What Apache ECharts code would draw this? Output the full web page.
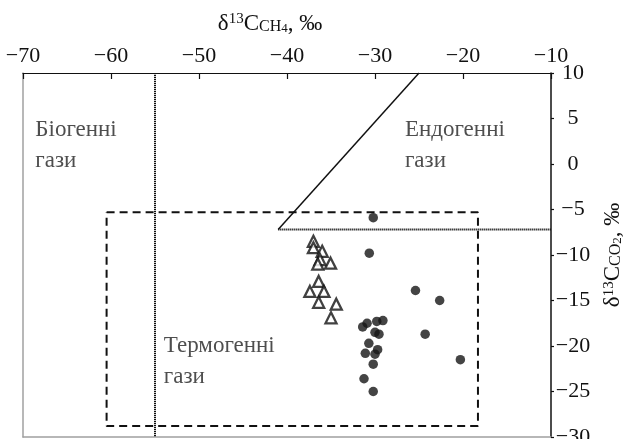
<!DOCTYPE html>
<html>
<head>
<meta charset="utf-8">
<script src="https://cdn.jsdelivr.net/npm/echarts@6/dist/echarts.min.js"></script>
<style>html,body{margin:0;padding:0;background:#fff;overflow:hidden}#c{width:636px;height:439px}</style>
</head>
<body>
<div id="c"></div>
<script>
// ---- data ----
const xRange = [-70, -10];
const yRange = [-30, 10];
const triangles = [[-37.0,-8.5],[-37.0,-9.2],[-36.0,-9.6],[-36.25,-10.5],[-36.5,-11.0],[-35.05,-10.9],[-36.4,-12.9],[-37.4,-14.0],[-35.8,-14.0],[-36.4,-15.2],[-34.4,-15.4],[-35.0,-16.9]];
const circles = [[-30.2,-5.9],[-30.65,-9.8],[-25.4,-13.9],[-22.65,-15.0],[-24.3,-18.7],[-20.3,-21.5],[-31.4,-17.9],[-30.9,-17.5],[-29.8,-17.3],[-29.1,-17.2],[-30.0,-18.5],[-29.55,-18.7],[-30.7,-19.7],[-31.1,-20.8],[-29.7,-20.4],[-30.0,-20.9],[-30.2,-22.0],[-31.25,-23.6],[-30.2,-25.0]];
const biogenicLimit = [[-55,10],[-55,-30]];
const endoHorizontal = [[-41,-7.2],[-10,-7.2]];
const endoDiagonal = [[-41,-7.2],[-25,10]];
const thermoBox = [[-60.5,-5.3],[-18.3,-5.3],[-18.3,-28.8],[-60.5,-28.8],[-60.5,-5.3]];
const zoneLabels = [
  {name:'Біогенні\nгази', value:[-68.6, 5.4]},
  {name:'Ендогенні\nгази', value:[-26.6, 5.4]},
  {name:'Термогенні\nгази', value:[-54.0, -18.3]}
];

const FONT = '"Liberation Serif","Times New Roman",serif';
const minus = v => String(v).replace('-', '\u2212');
const rich = {
  d:{fontFamily:FONT,fontSize:23,color:'#111'},
  c:{fontFamily:FONT,fontSize:23,color:'#111'},
  sup:{fontFamily:FONT,fontSize:15,color:'#111',verticalAlign:'top',padding:[0,0,8,0]},
  sub:{fontFamily:FONT,fontSize:16,color:'#111',verticalAlign:'bottom',padding:[6,0,0,0]},
  sub2:{fontFamily:FONT,fontSize:13,color:'#111',verticalAlign:'bottom',padding:[8,0,0,0]}
};

const chart = echarts.init(document.getElementById('c'), null, {renderer:'canvas'});
chart.setOption({
  animation:false,
  backgroundColor:'#fff',
  grid:{left:23, top:73, width:528, height:364, containLabel:false, outerBoundsMode:'none'},
  xAxis:[{
    type:'value', position:'top', min:xRange[0], max:xRange[1], interval:10,
    name:'{d|δ}{sup|13}{c|C}{sub|CH}{sub2|4}{d|, ‰}',
    nameLocation:'middle', nameGap:38,
    nameTextStyle:{padding:[0,34,0,0], rich:rich},
    axisLine:{show:true,onZero:false,lineStyle:{color:'#111',width:1.2}},
    axisTick:{show:true,inside:true,length:6,lineStyle:{color:'#111',width:1.2}},
    axisLabel:{fontFamily:FONT,fontSize:22,color:'#111',margin:6,formatter:minus},
    splitLine:{show:false}
  },{
    type:'value', position:'bottom', min:xRange[0], max:xRange[1], interval:10,
    axisLine:{show:true,onZero:false,lineStyle:{color:'#a0a0a0',width:1.5}},
    axisTick:{show:false}, axisLabel:{show:false}, splitLine:{show:false}
  }],
  yAxis:[{
    type:'value', position:'right', min:yRange[0], max:yRange[1], interval:5,
    name:'{d|δ}{sup|13}{c|C}{sub|CO}{sub2|2}{d|, ‰}',
    nameLocation:'middle', nameGap:48, nameRotate:90,
    nameTextStyle:{rich:rich},
    axisLine:{show:true,onZero:false,lineStyle:{color:'#111',width:1.5}},
    axisTick:{show:true,inside:false,length:3,lineStyle:{color:'#111',width:1.2}},
    axisLabel:{fontFamily:FONT,fontSize:22,color:'#111',margin:22,align:'center',formatter:minus},
    splitLine:{show:false}
  },{
    type:'value', position:'left', min:yRange[0], max:yRange[1], interval:5,
    axisLine:{show:true,onZero:false,lineStyle:{color:'#a0a0a0',width:1.5}},
    axisTick:{show:false}, axisLabel:{show:false}, splitLine:{show:false}
  }],
  series:[
    {type:'line', data:biogenicLimit, symbol:'none', lineStyle:{color:'#111',width:2,type:[1.2,0.8]}, z:2},
    {type:'line', data:endoHorizontal, symbol:'none', lineStyle:{color:'#111',width:2,type:[1.2,0.8]}, z:2},
    {type:'line', data:endoDiagonal, symbol:'none', lineStyle:{color:'#111',width:1.5}, z:2},
    {type:'line', data:thermoBox, symbol:'none', lineStyle:{color:'#111',width:2,type:[8,5]}, z:2},
    {type:'scatter', data:triangles, symbol:'triangle', symbolSize:11,
      itemStyle:{color:'#fff',borderColor:'#111',borderWidth:2.3}, z:4},
    {type:'scatter', data:circles, symbol:'circle', symbolSize:9.5,
      itemStyle:{color:'#151515'}, z:5},
    {type:'scatter', data:zoneLabels, symbolSize:0, silent:true,
      label:{show:true, position:[0,0], align:'left', verticalAlign:'top',
        formatter:p=>p.name, fontFamily:FONT, fontSize:23, lineHeight:31, color:'#222'}, z:6}
  ]
});
</script>
</body>
</html>
